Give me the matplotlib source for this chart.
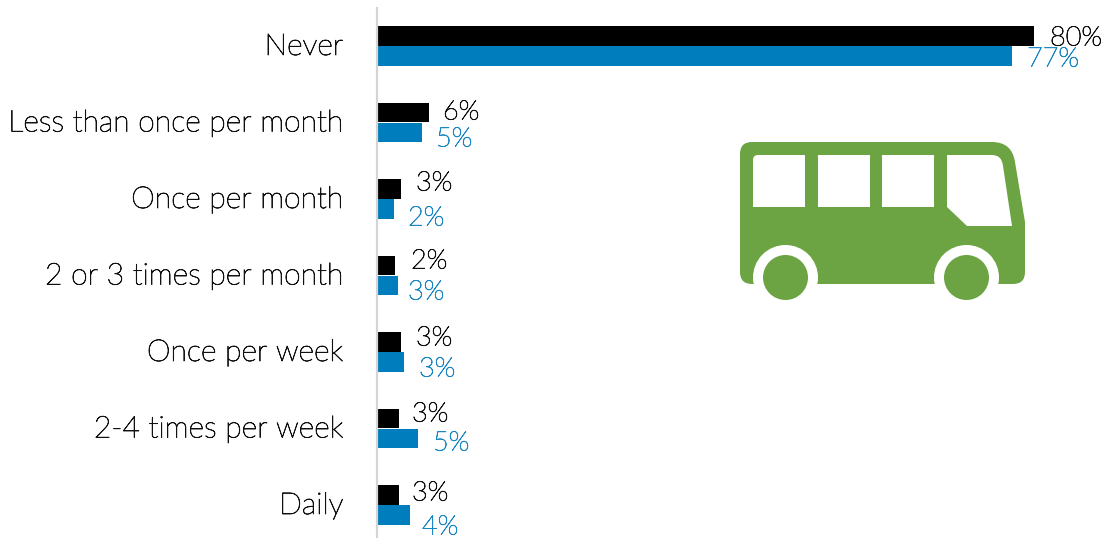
#!/usr/bin/env python3
import matplotlib
matplotlib.use("Agg")
import matplotlib.pyplot as plt
import matplotlib.patheffects as pe
from matplotlib.patches import Circle, PathPatch, Rectangle
from matplotlib.path import Path

# values as printed on the chart
categories = ["Never", "Less than once per month", "Once per month",
              "2 or 3 times per month", "Once per week", "2-4 times per week", "Daily"]
black_labels = [80, 6, 3, 2, 3, 3, 3]
blue_labels = [77, 5, 2, 3, 3, 5, 4]
# bar lengths, a bit finer than the rounded labels
black_values = [80, 6.25, 2.85, 2.15, 2.85, 2.65, 2.65]
blue_values = [77.3, 5.4, 2.1, 2.55, 3.25, 4.95, 4.0]

# where the value labels sit, in pixels (they were placed by hand in the original)
black_label_x = [1050, 443, 416, 411, 416, 412, 412]
black_label_y = [38, 112, 183, 261, 338, 414, 493]
blue_label_x = [1027, 436, 408, 408, 419, 433, 422]
blue_label_y = [59, 139, 218, 292, 369, 443, 527]

BLACK = "#000000"
BLUE = "#007dbd"
GREEN = "#6ca443"

plt.rcParams["font.family"] = ["Lato", "DejaVu Sans"]
plt.rcParams["font.weight"] = "light"

W, H = 1106, 538
fig = plt.figure(figsize=(W / 100, H / 100), dpi=100)

# bars, one unit on x = one percent
ax = fig.add_axes([377.2 / W, 0, (W - 377.2) / W, 1])
ax.set_xlim(0, (W - 377.2) / 8.21)
ax.set_ylim(H, 0)
ax.axis("off")

ys = [46 + 76.5 * i for i in range(len(categories))]
ax.barh([y - 10 for y in ys], black_values, height=19.6, color=BLACK)
ax.barh([y + 10 for y in ys], blue_values, height=19.6, color=BLUE)

# everything else in pixel coordinates
ico = fig.add_axes([0, 0, 1, 1])
ico.set_xlim(0, W)
ico.set_ylim(H, 0)
ico.axis("off")
ico.patch.set_alpha(0)

ico.plot([376.5, 376.5], [8, H], color="#d4d4d4", lw=1.6)


def thicken(color):
    # the light weight is too thin on its own
    return [pe.withStroke(linewidth=0.55, foreground=color)]


for y, cat in zip(ys, categories):
    ico.text(343.5, y + 1, cat, ha="right", va="center", fontsize=21.7, color="#111111",
             path_effects=thicken("#111111"))
for lab, x, y in zip(black_labels, black_label_x, black_label_y):
    ico.text(x, y, f"{lab}%", ha="left", va="center", fontsize=19.5, color="#111111",
             path_effects=thicken("#111111"))
for lab, x, y in zip(blue_labels, blue_label_x, blue_label_y):
    ico.text(x, y, f"{lab}%", ha="left", va="center", fontsize=19.5, color="#1a86c4",
             path_effects=thicken("#1a86c4"))

# bus icon
M, L, C = Path.MOVETO, Path.LINETO, Path.CURVE3
body = [((752, 142), M), ((992, 142), L), ((1012, 142), C), ((1015, 162), C),
        ((1025, 222), L), ((1025, 272), L), ((1025, 284), C), ((1013, 284), C),
        ((752, 284), L), ((740, 284), C), ((740, 272), C), ((740, 154), L),
        ((740, 142), C), ((752, 142), C), ((752, 142), Path.CLOSEPOLY)]
verts, codes = zip(*body)
ico.add_patch(PathPatch(Path(verts, codes), fc=GREEN, ec="none"))

first_win = [((758, 155), M), ((805, 155), L), ((805, 207), L), ((753, 207), L), ((753, 160), L),
             ((753, 155), C), ((758, 155), C), ((758, 155), Path.CLOSEPOLY)]
verts, codes = zip(*first_win)
ico.add_patch(PathPatch(Path(verts, codes), fc="white", ec="none"))
for x0 in (818, 882):
    ico.add_patch(Rectangle((x0, 155), 52, 52, fc="white", ec="none"))
front_win = [((947, 155), M), ((992, 155), L), ((1002, 155), C), ((1003, 166), C),
             ((1012, 226), L), ((967, 226), L), ((947, 207), L), ((947, 155), Path.CLOSEPOLY)]
verts, codes = zip(*front_win)
ico.add_patch(PathPatch(Path(verts, codes), fc="white", ec="none"))

for cx in (785.5, 966.5):
    ico.add_patch(Circle((cx, 277.5), 32.5, fc="white", ec="none"))
    ico.add_patch(Circle((cx, 277.5), 22.5, fc=GREEN, ec="none"))

fig.savefig("out.png", dpi=100)
